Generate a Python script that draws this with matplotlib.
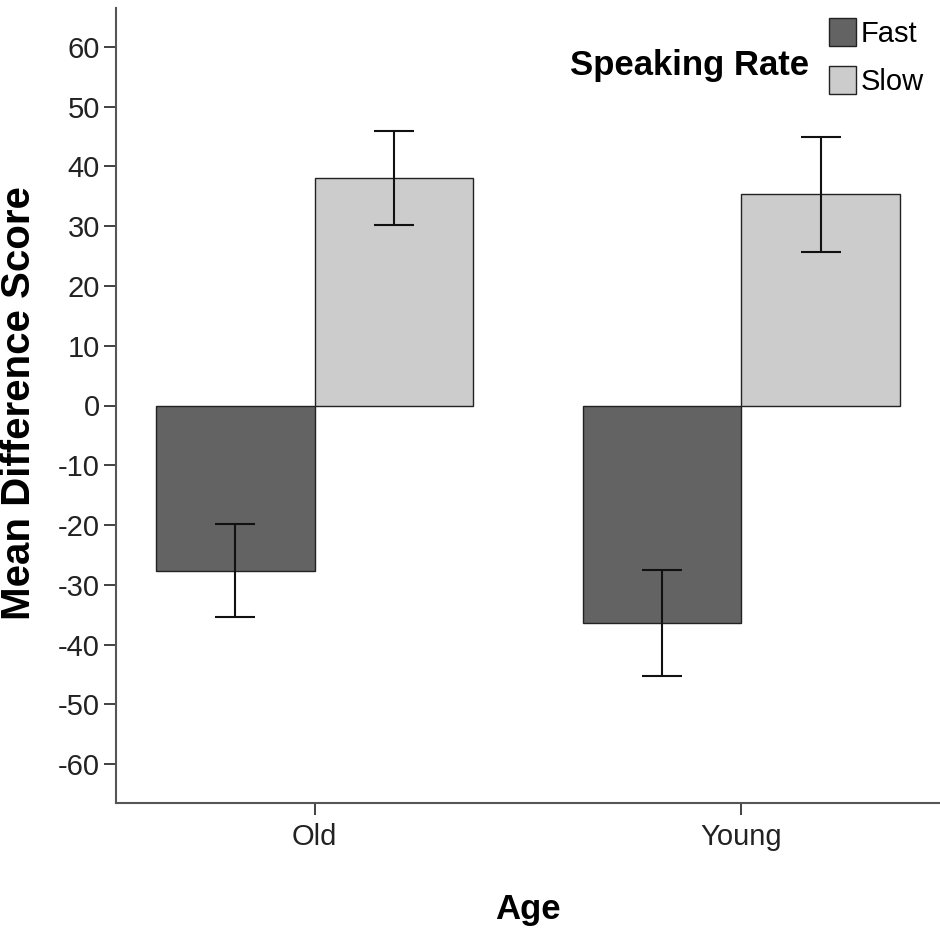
import numpy as np
import matplotlib
matplotlib.use('Agg')
import matplotlib.pyplot as plt
from matplotlib.patches import Patch

plt.rcParams['font.family'] = ['Liberation Sans', 'DejaVu Sans']

groups = ['Old', 'Young']
fast_means = [-27.7, -36.4]
slow_means = [38.0, 35.3]
fast_ci_low = [-35.3, -45.2]
fast_ci_high = [-19.9, -27.5]
slow_ci_low = [30.2, 25.6]
slow_ci_high = [46.0, 45.0]
yticks = list(range(-60, 70, 10))

fast_color = '#636363'
slow_color = '#cccccc'

fig = plt.figure(figsize=(9.4, 9.31), dpi=100)
ax = fig.add_axes([116/940, 1 - 803/931, 1 - 116/940, (803 - 8)/931])

x = np.arange(len(groups))
w = 0.372
fast_x = x - w/2
slow_x = x + w/2

ax.bar(fast_x, fast_means, width=w, color=fast_color, edgecolor='#222222', linewidth=1.0, zorder=2)
ax.bar(slow_x, slow_means, width=w, color=slow_color, edgecolor='#222222', linewidth=1.0, zorder=2)

def draw_err(xs, lo, hi):
    lo = np.array(lo)
    hi = np.array(hi)
    mid = (lo + hi) / 2
    ax.errorbar(xs, mid, yerr=[mid - lo, hi - mid], fmt='none', ecolor='#111111',
                elinewidth=1.5, capsize=14.4, capthick=1.5, zorder=3)

draw_err(fast_x, fast_ci_low, fast_ci_high)
draw_err(slow_x, slow_ci_low, slow_ci_high)

ax.set_xlim(-0.466, 1.466)
ax.set_ylim(-66.5, 66.5)
ax.set_yticks(yticks)
ax.set_yticklabels([str(t) for t in yticks])
ax.set_xticks(x)
ax.set_xticklabels(groups)

for s in ['top', 'right']:
    ax.spines[s].set_visible(False)
for s in ['left', 'bottom']:
    ax.spines[s].set_color('#555555')
    ax.spines[s].set_linewidth(1.5)

ax.tick_params(axis='y', length=8.6, width=1.3, color='#333333', pad=3, labelsize=21, labelcolor='#222222')
ax.tick_params(axis='x', length=8.6, width=1.3, color='#333333', pad=6, labelsize=21, labelcolor='#222222')

fig.text(19/940, 1 - 403/931, 'Mean Difference Score', rotation=90, ha='center', va='center',
         fontsize=29, fontweight='bold')
fig.text(528/940, 1 - 910/931, 'Age', ha='center', va='center', fontsize=25, fontweight='bold')

handles = [Patch(facecolor=fast_color, edgecolor='#222222', label='Fast'),
           Patch(facecolor=slow_color, edgecolor='#222222', label='Slow')]
fig.legend(handles=handles, loc='upper left', bbox_to_anchor=(814/940, 1 - 3/931),
           bbox_transform=fig.transFigure, frameon=False, borderpad=0, fontsize=21,
           handlelength=0.95, handleheight=1.1, handletextpad=0.15, labelspacing=0.65)
fig.text(570/940, 1 - 65/931, 'Speaking Rate', ha='left', va='center', fontsize=25, fontweight='bold')

fig.savefig('out.png', dpi=100)
